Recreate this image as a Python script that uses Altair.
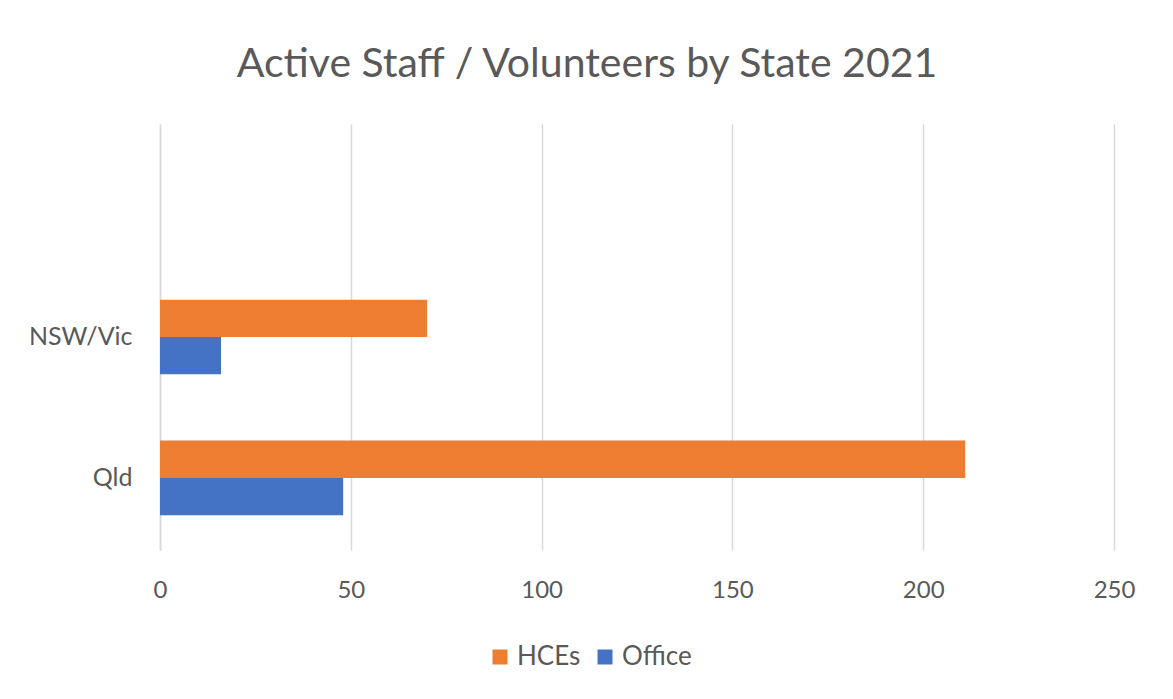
import altair as alt
import pandas as pd

categories = ["Qld", "NSW/Vic", " "]          # bottom to top as in the chart
series = ["HCEs", "Office"]
hces = [211, 70]
office = [48, 16]
x_ticks = [0, 50, 100, 150, 200, 250]
colors = ["#ED7D31", "#4472C4"]

rows = []
for cat, h, o in zip(categories[:2], hces, office):
    rows.append({"State": cat, "Series": "HCEs", "Value": h})
    rows.append({"State": cat, "Series": "Office", "Value": o})
df = pd.DataFrame(rows)

FONT = "Lato"
GREY = "#595959"

chart = alt.Chart(df).mark_bar().encode(
    y=alt.Y("State:N",
            scale=alt.Scale(domain=list(reversed(categories)), paddingInner=0.47, paddingOuter=0.246),
            axis=alt.Axis(title=None, ticks=False, domain=True, domainColor="#d9d9d9", domainWidth=1.5,
                          labelFont=FONT, labelFontSize=25, labelColor=GREY, labelPadding=28)),
    yOffset=alt.YOffset("Series:N", scale=alt.Scale(domain=series, paddingInner=0, paddingOuter=0)),
    x=alt.X("Value:Q",
            scale=alt.Scale(domain=[0, 250], nice=False),
            axis=alt.Axis(title=None, values=x_ticks, ticks=False, domain=False, grid=True,
                          gridColor="#d9d9d9", gridWidth=1.5, labelFlush=False,
                          labelFont=FONT, labelFontSize=24, labelColor=GREY, labelPadding=28)),
    color=alt.Color("Series:N", scale=alt.Scale(domain=series, range=colors),
                    legend=alt.Legend(title=None, orient="none", direction="horizontal",
                                      legendX=327, legendY=520, symbolType="square", symbolSize=225,
                                      symbolStrokeWidth=0, labelFont=FONT, labelFontSize=26,
                                      labelColor=GREY, columnPadding=11, labelOffset=4)),
).properties(
    width=954,
    height=426,
    background="white",
    autosize=alt.AutoSizeParams(type="none"),
    padding={"left": 152, "top": 116, "right": 51, "bottom": 137},
    title=alt.Title("Active Staff / Volunteers by State 2021", font=FONT, fontSize=41,
                    fontWeight="normal", color=GREY, anchor="middle", dx=-50, offset=38),
).configure_view(strokeWidth=0, stroke="transparent")

chart.save("out.html", embed_options={"renderer": "svg", "actions": False})
